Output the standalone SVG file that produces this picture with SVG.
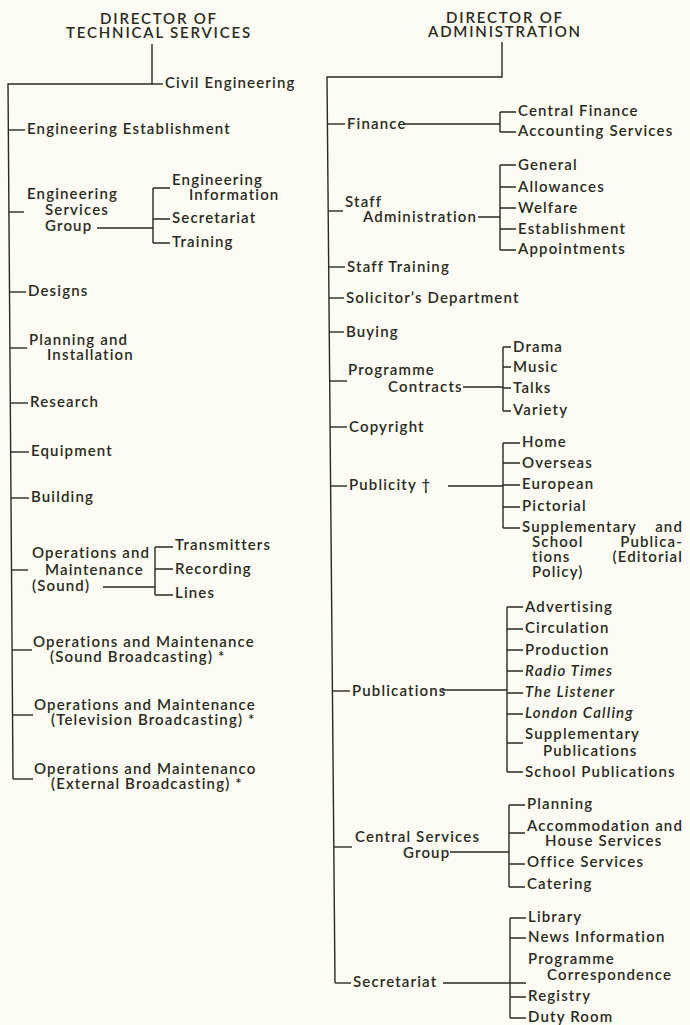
<svg xmlns="http://www.w3.org/2000/svg" width="690" height="1025" viewBox="0 0 690 1025">
<style>
text{font-family:Lato,"Liberation Sans",sans-serif;font-size:15px;font-weight:600;fill:#2a2a20;letter-spacing:1.15px}
.h{letter-spacing:1.8px}
.i{font-style:italic}
.e{text-anchor:end}
.m{text-anchor:middle}
.c path{stroke:#2a2a20;stroke-width:1.4;fill:none}
</style>
<rect width="690" height="1025" fill="#fcfcf4"/>
<g class="c" id="connectors">
<path d="M152,44V84H8L13,779"/>
<path d="M152,84H163"/>
<path d="M8.3,130H25"/>
<path d="M8.9,212H24"/>
<path d="M97,228H153M153,188V243M153,188H170M153,219H170M153,243H170"/>
<path d="M9.5,292H26"/>
<path d="M9.9,348H27"/>
<path d="M10.3,403H28"/>
<path d="M10.7,452H29"/>
<path d="M11,498H29"/>
<path d="M11.5,570H28"/>
<path d="M103,587H155M155,547V595M155,547H173M155,569H173M155,595H173"/>
<path d="M12.1,650H32"/>
<path d="M12.5,715H33"/>
<path d="M13,779H33"/>
<path d="M502,42V77H327L335,983"/>
<path d="M327.4,124H345"/>
<path d="M403,124H500M500,112V132M500,112H516M500,132H516"/>
<path d="M328.2,211H343"/>
<path d="M478,217H500M500,165V250M500,165H516M500,187H516M500,208H516M500,229H516M500,250H516"/>
<path d="M328.7,267H345"/>
<path d="M329,298H344"/>
<path d="M329.3,332H344"/>
<path d="M329.7,381H347"/>
<path d="M463,387H503M503,347V411M503,347H511M503,367H511M503,388H511M503,411H511"/>
<path d="M330.1,427H347"/>
<path d="M330.6,486H347"/>
<path d="M448,486H503M503,443V528M503,443H520M503,463H520M503,485H520M503,507H520M503,528H520"/>
<path d="M332.4,691H350"/>
<path d="M442,690H507M507,607V772M507,607H523M507,629H523M507,650H523M507,671H523M507,693H523M507,714H523M507,743H523M507,772H523"/>
<path d="M333.8,847H352"/>
<path d="M450,852H509M509,805V887M509,805H525M509,833H525M509,864H525M509,887H525"/>
<path d="M335,983H351"/>
<path d="M443,983H526M510,918V1018M510,918H526M510,938H526M510,997H526M510,1018H526"/>
</g>
<g id="dir-tech"><text class="h m" x="159" y="24">DIRECTOR OF<tspan x="159" y="38">TECHNICAL SERVICES</tspan></text></g>
<g id="civil-eng"><text x="165" y="88">Civil Engineering</text></g>
<g id="eng-est"><text x="27" y="134">Engineering Establishment</text></g>
<g id="esg"><text x="27" y="199">Engineering<tspan x="45" y="215">Services</tspan><tspan x="45" y="231">Group</tspan></text></g>
<g id="esg-info"><text x="172" y="185">Engineering<tspan x="189" y="200">Information</tspan></text></g>
<g id="esg-sec"><text x="172" y="223">Secretariat</text></g>
<g id="esg-train"><text x="172" y="247">Training</text></g>
<g id="designs"><text x="28" y="296">Designs</text></g>
<g id="planning"><text x="29" y="345">Planning and<tspan x="47" y="360">Installation</tspan></text></g>
<g id="research"><text x="30" y="407">Research</text></g>
<g id="equipment"><text x="31" y="456">Equipment</text></g>
<g id="building"><text x="31" y="502">Building</text></g>
<g id="om-sound"><text x="32" y="558">Operations and<tspan x="45" y="575">Maintenance</tspan><tspan x="32" y="591">(Sound)</tspan></text></g>
<g id="transmitters"><text x="175" y="550">Transmitters</text></g>
<g id="recording"><text x="175" y="574">Recording</text></g>
<g id="lines"><text x="175" y="598">Lines</text></g>
<g id="om-sb"><text x="33" y="647">Operations and Maintenance<tspan x="50" y="662">(Sound Broadcasting) *</tspan></text></g>
<g id="om-tv"><text x="34" y="710">Operations and Maintenance<tspan x="51" y="725">(Television Broadcasting) *</tspan></text></g>
<g id="om-ext"><text x="34" y="774">Operations and Maintenanco<tspan x="51" y="789">(External Broadcasting) *</tspan></text></g>

<g id="dir-admin"><text class="h m" x="505" y="23">DIRECTOR OF<tspan x="505" y="37">ADMINISTRATION</tspan></text></g>
<g id="finance"><text x="347" y="129">Finance</text></g>
<g id="central-finance"><text x="518" y="116">Central Finance</text></g>
<g id="accounting"><text x="518" y="136">Accounting Services</text></g>
<g id="staff-admin"><text x="345" y="207">Staff<tspan x="363" y="222">Administration</tspan></text></g>
<g id="general"><text x="518" y="170">General</text></g>
<g id="allowances"><text x="518" y="192">Allowances</text></g>
<g id="welfare"><text x="518" y="213">Welfare</text></g>
<g id="establishment"><text x="518" y="234">Establishment</text></g>
<g id="appointments"><text x="518" y="254">Appointments</text></g>
<g id="staff-training"><text x="347" y="272">Staff Training</text></g>
<g id="solicitor"><text x="346" y="303">Solicitor’s Department</text></g>
<g id="buying"><text x="346" y="337">Buying</text></g>
<g id="prog-contracts"><text x="348" y="375">Programme<tspan x="388" y="392">Contracts</tspan></text></g>
<g id="drama"><text x="513" y="352">Drama</text></g>
<g id="music"><text x="513" y="372">Music</text></g>
<g id="talks"><text x="513" y="393">Talks</text></g>
<g id="variety"><text x="513" y="415">Variety</text></g>
<g id="copyright"><text x="349" y="432">Copyright</text></g>
<g id="publicity"><text x="349" y="490">Publicity †</text></g>
<g id="home"><text x="522" y="447">Home</text></g>
<g id="overseas"><text x="522" y="468">Overseas</text></g>
<g id="european"><text x="522" y="489">European</text></g>
<g id="pictorial"><text x="522" y="511">Pictorial</text></g>
<g id="supp-school"><text x="522" y="532">Supplementary<tspan class="e" x="683" y="532">and</tspan><tspan x="532" y="547">School</tspan><tspan class="e" x="683" y="547">Publica-</tspan><tspan x="532" y="562">tions</tspan><tspan class="e" x="683" y="562">(Editorial</tspan><tspan x="532" y="577">Policy)</tspan></text></g>
<g id="publications"><text x="352" y="696">Publications</text></g>
<g id="advertising"><text x="525" y="612">Advertising</text></g>
<g id="circulation"><text x="525" y="633">Circulation</text></g>
<g id="production"><text x="525" y="655">Production</text></g>
<g id="radio-times"><text class="i" x="525" y="676">Radio Times</text></g>
<g id="listener"><text class="i" x="525" y="697">The Listener</text></g>
<g id="london-calling"><text class="i" x="525" y="718">London Calling</text></g>
<g id="supp-pub"><text x="525" y="739">Supplementary<tspan x="543" y="756">Publications</tspan></text></g>
<g id="school-pub"><text x="525" y="777">School Publications</text></g>
<g id="csg"><text x="355" y="842">Central Services<tspan x="403" y="858">Group</tspan></text></g>
<g id="planning-r"><text x="527" y="809">Planning</text></g>
<g id="accommodation"><text x="527" y="831">Accommodation and<tspan x="545" y="846">House Services</tspan></text></g>
<g id="office"><text x="527" y="867">Office Services</text></g>
<g id="catering"><text x="527" y="889">Catering</text></g>
<g id="secretariat"><text x="353" y="987">Secretariat</text></g>
<g id="library"><text x="528" y="922">Library</text></g>
<g id="news"><text x="528" y="942">News Information</text></g>
<g id="prog-corr"><text x="528" y="964">Programme<tspan x="547" y="980">Correspondence</tspan></text></g>
<g id="registry"><text x="528" y="1001">Registry</text></g>
<g id="duty-room"><text x="528" y="1022">Duty Room</text></g>
</svg>
